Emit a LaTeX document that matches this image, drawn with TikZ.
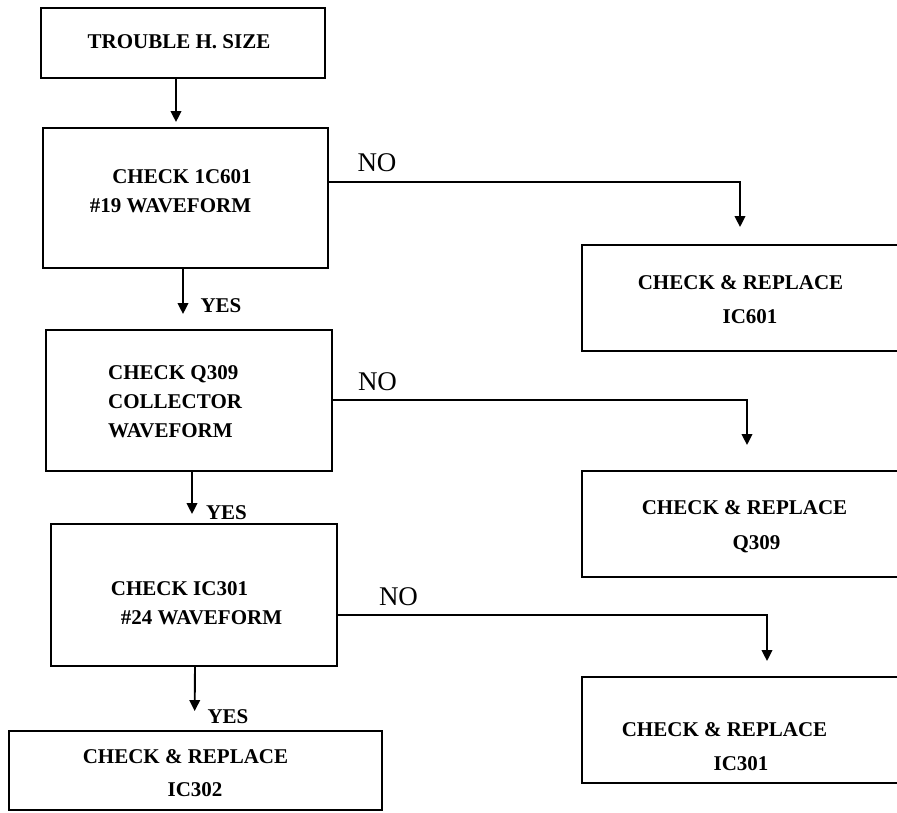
\documentclass[tikz,border=0pt]{standalone}
\usepackage{fontspec}
\setmainfont{Liberation Serif}
\usetikzlibrary{arrows.meta}
\begin{document}
\begin{tikzpicture}[x=1pt,y=-1pt,
  box/.style={draw=black, line width=1.9pt, inner sep=0pt, rectangle},
  bt/.style={font=\bfseries\fontsize{21}{25}\selectfont, inner sep=0pt, text height=13.8pt, text depth=0pt},
  nt/.style={font=\fontsize{27}{30}\selectfont, inner sep=0pt, text height=17.8pt, text depth=0pt},
  arr/.style={draw=black, line width=1.9pt, -{Triangle[length=11pt,width=10.5pt]}}]
\useasboundingbox[fill=white] (0,0) rectangle (897,812);
% boxes
\node[box, minimum width=284pt, minimum height=70pt] (b1) at (183,43) {};
\node[box, minimum width=285pt, minimum height=140pt] (b2) at (185.5,198) {};
\node[box, minimum width=328pt, minimum height=106pt] (b3) at (746,298) {};
\node[box, minimum width=286pt, minimum height=141pt] (b4) at (189,400.5) {};
\node[box, minimum width=328pt, minimum height=106pt] (b5) at (746,524) {};
\node[box, minimum width=286pt, minimum height=142pt] (b6) at (194,595) {};
\node[box, minimum width=328pt, minimum height=106pt] (b7) at (746,730) {};
\node[box, minimum width=373pt, minimum height=79pt] (b8) at (195.5,770.5) {};
% texts
\node[bt] (t1) at (179,42) {TROUBLE H. SIZE};
\node[bt] (t2a) at (182,177) {CHECK 1C601};
\node[bt] (t2b) at (170.5,206) {\#19 WAVEFORM};
\node[bt] (t3a) at (740.5,283) {CHECK \& REPLACE};
\node[bt] (t3b) at (750,317) {IC601};
\node[bt, anchor=west] (t4a) at (108,373) {CHECK Q309};
\node[bt, anchor=west] (t4b) at (108,402) {COLLECTOR};
\node[bt, anchor=west] (t4c) at (108,431) {WAVEFORM};
\node[bt] (t5a) at (744.5,508) {CHECK \& REPLACE};
\node[bt] (t5b) at (756.5,543) {Q309};
\node[bt] (t6a) at (179.5,589) {CHECK IC301};
\node[bt] (t6b) at (201.5,618) {\#24 WAVEFORM};
\node[bt] (t7a) at (724.5,730) {CHECK \& REPLACE};
\node[bt] (t7b) at (741,764) {IC301};
\node[bt] (t8a) at (185.5,757) {CHECK \& REPLACE};
\node[bt] (t8b) at (195,790) {IC302};
% labels
\node[bt] (y1) at (221,306) {YES};
\node[bt] (y2) at (226.5,513) {YES};
\node[bt] (y3) at (228,717) {YES};
\node[nt] (no1) at (377,163) {NO};
\node[nt] (no2) at (377.5,382) {NO};
\node[nt] (no3) at (398.5,597) {NO};
% connectors
\draw[arr, shorten >=5pt] ([xshift=-7pt]b1.south) -- ([xshift=-9.5pt]b2.north);
\draw[arr, shorten >=15pt] ([xshift=-2.5pt]b2.south) -- ([xshift=-6pt]b4.north);
\draw[arr, shorten >=9pt] ([xshift=3pt]b4.south) -- ([xshift=-2pt]b6.north);
\draw[arr, shorten >=19pt] ([xshift=1pt]b6.south) -- ([xshift=-1pt]b8.north);
\draw[arr, shorten >=17pt] ([yshift=16pt]b2.east) -| ([xshift=-6pt]b3.north);
\draw[arr, shorten >=25pt] ([yshift=0.5pt]b4.east) -| ([xshift=1pt]b5.north);
\draw[arr, shorten >=15pt] ([yshift=-20pt]b6.east) -| ([xshift=21pt]b7.north);
\end{tikzpicture}
\end{document}
